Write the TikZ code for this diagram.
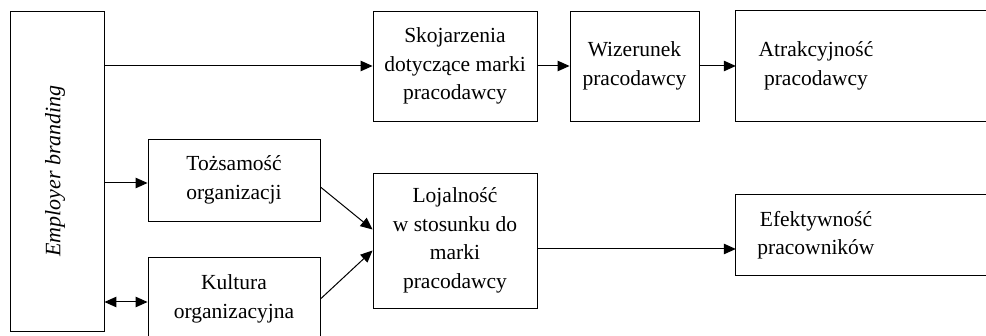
\documentclass[tikz,border=0pt]{standalone}
\usepackage{fontspec}
\setmainfont{Liberation Serif}
\usetikzlibrary{arrows.meta}
\begin{document}
\begin{tikzpicture}[x=1pt,y=-1pt,
  txt/.style={inner sep=0pt, align=center, font=\fontsize{21.5}{28.5}\selectfont},
  box/.style={txt, draw, line width=0.9pt, rectangle},
  open/.style={line width=0.9pt},
  arr/.style={line width=1pt, -{Triangle[length=12pt,width=10.5pt]}},
  darr/.style={line width=1pt, {Triangle[length=12pt,width=10.5pt]}-{Triangle[length=12pt,width=10.5pt]}}]
\clip (0,0) rectangle (986,336);
\fill[white] (0,0) rectangle (986,336);
\node[box, minimum width=94, minimum height=320] (eb) at (57,171) {};
\node[rotate=90, font=\fontsize{22}{28.5}\selectfont\itshape] (ebt) at (55,171) {Employer branding};
\node[box, minimum width=164, minimum height=110] (sk) at (455,66) {Skojarzenia\\dotyczące marki\\pracodawcy};
\node[box, minimum width=129, minimum height=110] (wiz) at (634.5,66) {Wizerunek\\pracodawcy};
\node[txt, minimum width=160, minimum height=110] (atr) at (816,66) {Atrakcyjność\\pracodawcy};
\draw[open] ([xshift=130pt]atr.north east) -- (atr.north west) -- (atr.south west) -- ([xshift=130pt]atr.south east);
\node[box, minimum width=172, minimum height=82] (toz) at (234,180) {Tożsamość\\organizacji};
\node[box, minimum width=172, minimum height=84] (kul) at (234,299) {Kultura\\organizacyjna};
\node[box, minimum width=164, minimum height=135] (loj) at (455,240.5) {Lojalność\\w stosunku do\\marki\\pracodawcy};
\node[txt, minimum width=160, minimum height=80] (efe) at (816,235) {Efektywność\\pracowników};
\draw[open] ([xshift=130pt]efe.north east) -- (efe.north west) -- (efe.south west) -- ([xshift=130pt]efe.south east);
\draw[arr] (eb.east |- sk.west) -- (sk.west);
\draw[arr] (sk.east) -- (wiz.west);
\draw[arr] (wiz.east) -- (atr.west);
\coordinate (tz) at ([yshift=-3pt]toz.west);
\draw[arr] (tz -| eb.east) -- (tz);
\coordinate (kw) at ([yshift=-3pt]kul.west);
\draw[darr] (kw -| eb.east) -- (kw);
\draw[arr] ([yshift=-7pt]toz.east) -- ([yshift=11pt]loj.west);
\draw[arr] (kul.east) -- ([yshift=-10pt]loj.west);
\coordinate (le) at ([yshift=-8.5pt]loj.east);
\draw[arr] (le) -- (le -| efe.west);
\end{tikzpicture}
\end{document}
